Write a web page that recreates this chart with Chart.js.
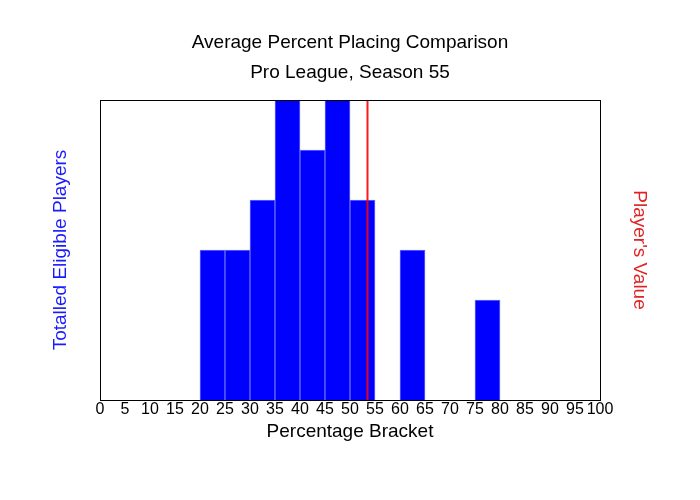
<!DOCTYPE html>
<html>
<head>
<meta charset="utf-8">
<script src="https://cdn.jsdelivr.net/npm/chart.js@4/dist/chart.umd.min.js"></script>
<style>
  html, body { margin: 0; padding: 0; background: #fff; }
  #wrap { width: 700px; height: 500px; }
</style>
</head>
<body>
<div id="wrap"><canvas id="chart"></canvas></div>
<script>
// Histogram bins (start of each 5% bracket) and player counts
const binStarts = [0, 5, 10, 15, 20, 25, 30, 35, 40, 45, 50, 55, 60, 65, 70, 75, 80, 85, 90, 95];
const binCounts = [0, 0, 0, 0, 3, 3, 4, 6, 5, 6, 4, 0, 3, 0, 0, 2, 0, 0, 0, 0];
const binWidth = 5;

// Player's own value (red marker)
const playerValue = 53.5;

const titleLines = ['Average Percent Placing Comparison', 'Pro League, Season 55'];
const xTitle = 'Percentage Bracket';
const yTitle = 'Totalled Eligible Players';
const y2Title = "Player's Value";

const FONT = 'Arial, "Liberation Sans", sans-serif';

// Draws the black frame around the plot area
const frame = {
  id: 'frame',
  afterDatasetsDraw: function(chart) {
    const a = chart.chartArea;
    const ctx = chart.ctx;
    ctx.save();
    ctx.strokeStyle = '#000';
    ctx.lineWidth = 1;
    ctx.strokeRect(Math.round(a.left) + 0.5, Math.round(a.top) + 0.5,
      Math.round(a.right - a.left), Math.round(a.bottom - a.top));
    ctx.restore();
  }
};

const ctx = document.getElementById('chart').getContext('2d');

new Chart(ctx, {
  type: 'bar',
  data: {
    datasets: [
      {
        type: 'line',
        data: [{ x: playerValue, y: 0 }, { x: playerValue, y: 6 }],
        borderColor: 'rgba(255, 0, 0, 0.9)',
        borderWidth: 2,
        pointRadius: 0,
        order: 0
      },
      {
        data: binStarts.map((s, i) => ({ x: s + binWidth / 2, y: binCounts[i] })),
        backgroundColor: '#0000ff',
        borderColor: '#6a6aff',
        borderWidth: 1,
        barPercentage: 1,
        categoryPercentage: 1,
        order: 1
      }
    ]
  },
  options: {
    responsive: true,
    maintainAspectRatio: false,
    animation: false,
    layout: { padding: 0 },
    plugins: {
      legend: { display: false },
      tooltip: { enabled: false },
      title: {
        display: true,
        text: titleLines,
        color: '#000',
        font: { family: FONT, size: 19, weight: 'normal', lineHeight: 1.58 },
        padding: { top: 28, bottom: 12 }
      }
    },
    scales: {
      x: {
        type: 'linear',
        min: 0,
        max: 100,
        offset: false,
        grid: { display: false, drawTicks: false },
        border: { display: false },
        ticks: {
          stepSize: 5,
          autoSkip: false,
          maxRotation: 0,
          padding: 0,
          color: '#000',
          font: { family: FONT, size: 16 }
        },
        title: {
          display: true,
          text: xTitle,
          color: '#000',
          font: { family: FONT, size: 19 },
          padding: { top: 0, bottom: 57 }
        },
        afterFit: function(scale) { scale.height = 100; }
      },
      y: {
        min: 0,
        max: 6,
        grid: { display: false },
        border: { display: false },
        ticks: { display: false },
        title: {
          display: true,
          text: yTitle,
          color: '#1a1aff',
          font: { family: FONT, size: 19 },
          padding: { top: 49, bottom: 0 }
        },
        afterFit: function(scale) { scale.width = 100; }
      },
      y2: {
        position: 'right',
        min: 0,
        max: 6,
        grid: { display: false },
        border: { display: false },
        ticks: { display: false },
        title: {
          display: true,
          text: y2Title,
          color: '#e02424',
          font: { family: FONT, size: 19 },
          padding: { top: 49, bottom: 0 }
        },
        afterFit: function(scale) { scale.width = 100; }
      }
    }
  },
  plugins: [frame]
});
</script>
</body>
</html>
